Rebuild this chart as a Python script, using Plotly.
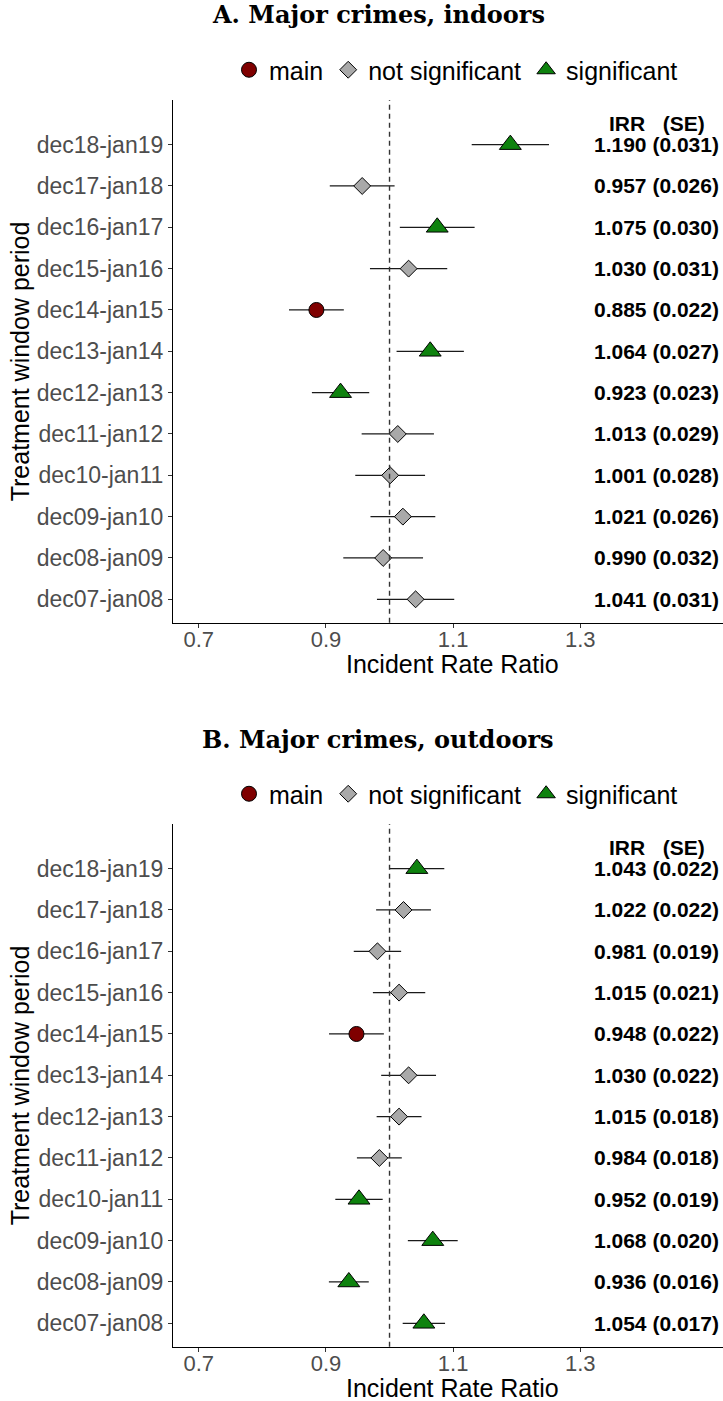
import plotly.graph_objects as go

# ---------------- data ----------------
periods = ["dec07-jan08", "dec08-jan09", "dec09-jan10", "dec10-jan11", "dec11-jan12",
           "dec12-jan13", "dec13-jan14", "dec14-jan15", "dec15-jan16", "dec16-jan17",
           "dec17-jan18", "dec18-jan19"]

irr_a = [1.041, 0.990, 1.021, 1.001, 1.013, 0.923, 1.064, 0.885, 1.030, 1.075, 0.957, 1.190]
se_a = [0.031, 0.032, 0.026, 0.028, 0.029, 0.023, 0.027, 0.022, 0.031, 0.030, 0.026, 0.031]
status_a = ["not significant", "not significant", "not significant", "not significant",
            "not significant", "significant", "significant", "main", "not significant",
            "significant", "not significant", "significant"]

irr_b = [1.054, 0.936, 1.068, 0.952, 0.984, 1.015, 1.030, 0.948, 1.015, 0.981, 1.022, 1.043]
se_b = [0.017, 0.016, 0.020, 0.019, 0.018, 0.018, 0.022, 0.022, 0.021, 0.019, 0.022, 0.022]
status_b = ["significant", "significant", "significant", "significant", "not significant",
            "not significant", "not significant", "main", "not significant",
            "not significant", "not significant", "significant"]

titles = ["A. Major crimes, indoors", "B. Major crimes, outdoors"]
x_ticks = [0.7, 0.9, 1.1, 1.3]
x_title = "Incident Rate Ratio"
y_title = "Treatment window period"
header = "IRR\u00a0\u00a0\u00a0(SE)"

# ---------------- style ----------------
W, H = 723, 1401
L = 173
SANS = "Liberation Sans, Arial, sans-serif"
SERIF = "DejaVu Serif, serif"
styles = {
    "main": dict(symbol="circle", color="#7F0000", size=15),
    "not significant": dict(symbol="diamond", color="#A9A9A9", size=13),
    "significant": dict(symbol="triangle-up", color="#0E820E", size=19),
}
order = ["main", "not significant", "significant"]
ypos = list(range(1, len(periods) + 1))

# panel geometry in pixels (top, bottom of plotting area)
panels_px = [(100, 622.7), (824, 1346.7)]


def py(px):
    return 1 - px / H


def pxx(px):
    return (px - L) / (W - L)


fig = go.Figure()
data_sets = [(irr_a, se_a, status_a), (irr_b, se_b, status_b)]

for p, (irr, se, status) in enumerate(data_sets):
    xa = "x" if p == 0 else "x2"
    ya = "y" if p == 0 else "y2"
    leg = "legend" if p == 0 else "legend2"
    # CI lines
    cx, cy = [], []
    for v, s, y in zip(irr, se, ypos):
        cx += [v - 1.96 * s, v + 1.96 * s, None]
        cy += [y, y, None]
    fig.add_trace(go.Scatter(x=cx, y=cy, mode="lines", xaxis=xa, yaxis=ya,
                             line=dict(color="#1a1a1a", width=1.3),
                             showlegend=False, hoverinfo="skip"))
    for cat in order:
        st = styles[cat]
        xs = [v for v, s in zip(irr, status) if s == cat]
        ys = [y for y, s in zip(ypos, status) if s == cat]
        fig.add_trace(go.Scatter(
            x=xs, y=ys, mode="markers", name=cat, xaxis=xa, yaxis=ya, legend=leg,
            marker=dict(symbol=st["symbol"], color=st["color"], size=st["size"],
                        line=dict(color="#000000", width=1))))
    # labels
    for v, s, y in zip(irr, se, ypos):
        fig.add_annotation(x=1.42, y=y, xref=xa, yref=ya, text=f"{v:.3f} ({s:.3f})",
                           showarrow=False, xanchor="center", yanchor="middle",
                           font=dict(family=SANS, size=21, color="#000000", weight="bold"))
    fig.add_annotation(x=1.42, y=12.52, xref=xa, yref=ya, text=header,
                       showarrow=False, xanchor="center", yanchor="middle",
                       font=dict(family=SANS, size=21, color="#000000", weight="bold"))
    # reference line
    fig.add_shape(type="line", xref=xa, yref=f"{ya} domain", x0=1, x1=1, y0=0, y1=1,
                  line=dict(color="#333333", width=1.4, dash="5px,4px"), layer="above")

    top, bot = panels_px[p]
    # title
    fig.add_annotation(x=pxx(378), y=py(top - 85), xref="paper", yref="paper",
                       text=f"<b>{titles[p]}</b>", showarrow=False,
                       xanchor="center", yanchor="middle",
                       font=dict(family=SERIF, size=24, color="#000000"))
    # axis titles
    fig.add_annotation(x=pxx(453), y=py(bot + 41), xref="paper", yref="paper",
                       text=x_title, showarrow=False, xanchor="center", yanchor="middle",
                       font=dict(family=SANS, size=25, color="#000000"))
    fig.add_annotation(x=pxx(20), y=py((top + bot) / 2), xref="paper", yref="paper",
                       text=y_title, showarrow=False, textangle=-90,
                       xanchor="center", yanchor="middle",
                       font=dict(family=SANS, size=25, color="#000000"))

axis_common = dict(showline=True, linecolor="#000000", linewidth=1.2, ticks="outside",
                   ticklen=4, tickwidth=1, tickcolor="#333333", showgrid=False,
                   zeroline=False)
xfont = dict(family=SANS, size=22, color="#4D4D4D")
yfont = dict(family=SANS, size=23, color="#4D4D4D")

xr = [0.6595, 1.5244]
yr = [0.434, 13.08]
fig.update_layout(
    width=W, height=H, margin=dict(l=L, r=0, t=0, b=0), autosize=False,
    paper_bgcolor="white", plot_bgcolor="white",
    xaxis=dict(domain=[0, 1], range=xr, tickvals=x_ticks, ticktext=[str(t) for t in x_ticks],
               anchor="y", tickfont=xfont, ticklabelstandoff=-7, **axis_common),
    yaxis=dict(domain=[py(panels_px[0][1]), py(panels_px[0][0])], range=yr,
               tickvals=ypos, ticktext=periods, anchor="x", tickfont=yfont, **axis_common),
    xaxis2=dict(domain=[0, 1], range=xr, tickvals=x_ticks, ticktext=[str(t) for t in x_ticks],
                anchor="y2", tickfont=xfont, ticklabelstandoff=-7, **axis_common),
    yaxis2=dict(domain=[py(panels_px[1][1]), py(panels_px[1][0])], range=yr,
                tickvals=ypos, ticktext=periods, anchor="x2", tickfont=yfont, **axis_common),
    legend=dict(orientation="h", x=pxx(456), y=py(70), xanchor="center", yanchor="middle",
                font=dict(family=SANS, size=25, color="#000000"), bgcolor="rgba(0,0,0,0)"),
    legend2=dict(orientation="h", x=pxx(456), y=py(794), xanchor="center", yanchor="middle",
                 font=dict(family=SANS, size=25, color="#000000"), bgcolor="rgba(0,0,0,0)"),
    showlegend=True,
)

fig.write_html("out.html", config={"displayModeBar": False},
               post_script="document.body.style.margin='0';document.body.style.overflow='hidden';")
